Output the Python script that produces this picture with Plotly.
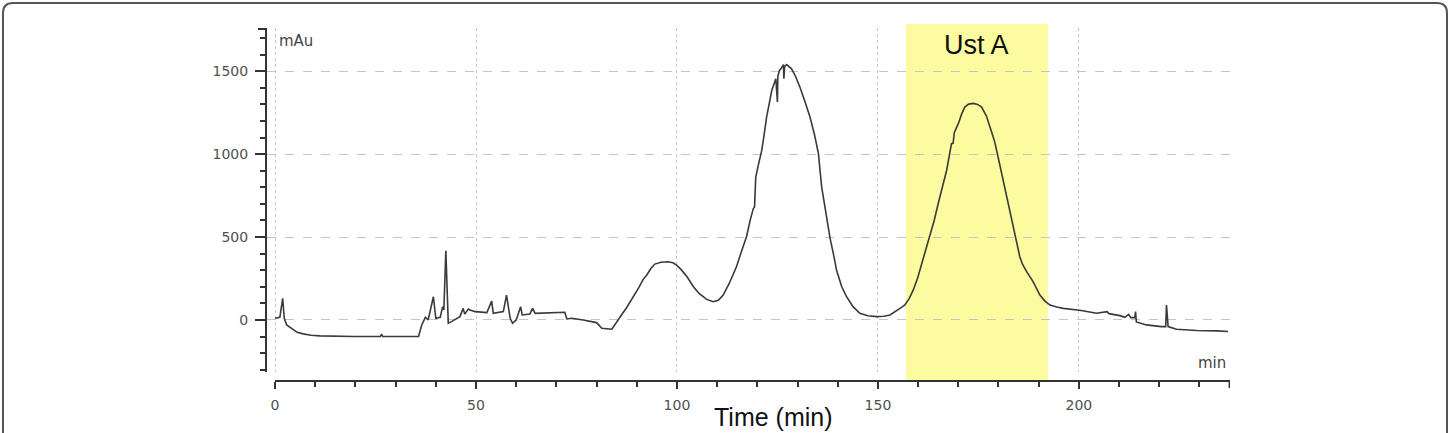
import plotly.graph_objects as go

# ---- data ----
time_min = [0.0, 1.2, 1.9, 2.3, 2.9, 3.7, 4.6, 5.5, 7.0, 9.0, 11.2, 15.0, 19.5, 26.2, 26.5,
            26.8, 35.7, 36.5, 37.1, 37.4, 38.1, 39.4, 40.0, 41.1, 41.7, 42.0, 42.5, 43.1,
            43.9, 46.0, 46.8, 47.2, 48.1, 48.5, 49.8, 52.7, 53.9, 54.3, 56.8, 57.6, 58.5,
            59.1, 60.0, 61.1, 61.5, 63.4, 64.1, 64.7, 72.1, 72.6, 73.8, 76.7, 80.0, 81.3,
            83.8, 85.0, 86.2, 87.5, 89.1, 90.5, 91.6, 92.5, 93.5, 94.5, 96.0, 97.8, 99.0,
            99.9, 101.0, 102.5, 104.1, 105.5, 107.4, 109.0, 110.3, 111.5, 113.0, 114.8,
            116.0, 117.3, 118.3, 119.0, 119.3, 119.6, 120.3, 121.1, 121.7, 122.3, 123.0,
            123.6, 124.6, 125.0, 125.1, 125.5, 126.0, 126.5, 126.6, 126.8, 127.3, 128.5,
            129.5, 130.6, 131.8, 133.1, 134.2, 135.2, 136.0, 137.2, 138.1, 139.0, 139.7,
            141.0, 142.2, 143.8, 145.5, 147.5, 149.7, 151.5, 153.0, 155.5, 156.7, 157.8,
            158.8, 159.9, 160.9, 161.9, 162.9, 164.0, 165.0, 166.0, 167.1, 168.3, 168.7,
            169.0, 170.0, 170.8, 171.6, 172.6, 173.7, 174.8, 175.8, 177.0, 177.9, 179.0,
            179.9, 181.0, 182.0, 183.0, 184.1, 185.3, 186.0, 187.0, 188.6, 189.5, 190.3,
            191.5, 192.8, 194.5, 196.1, 200.2, 204.4, 207.0, 207.5, 210.2, 211.4, 212.4,
            212.9, 213.9, 214.1, 214.3, 216.8, 220.5, 221.6, 221.8, 222.2, 224.3, 229.3,
            234.3, 237.1]
absorbance_mau = [10, 16, 130, 10, -30, -44, -64, -75, -84, -92, -96, -99, -100, -100, -86,
                  -100, -100, -30, 5, 16, 0, 140, 10, 16, 80, 60, 417, -20,
                  -10, 20, 70, 35, 66, 60, 50, 44, 114, 40, 50, 150, 10,
                  -20, 0, 80, 30, 36, 70, 40, 46, 6, 10, 0, -16, -50,
                  -56, -10, 30, 75, 135, 195, 245, 271, 310, 337, 348, 351, 345,
                  331, 305, 260, 200, 160, 124, 110, 118, 150, 220, 321,
                  410, 502, 610, 672, 680, 860, 940, 1023, 1120, 1224, 1310,
                  1385, 1455, 1314, 1470, 1505, 1520, 1540, 1455, 1530, 1540, 1515,
                  1470, 1404, 1320, 1224, 1120, 1003, 802, 622, 492, 390, 301,
                  200, 140, 80, 40, 25, 20, 22, 30, 70, 90, 130,
                  181, 255, 341, 420, 502, 600, 702, 800, 903, 1063, 1065,
                  1130, 1184, 1240, 1284, 1302, 1306, 1300, 1284, 1230, 1164, 1080,
                  983, 860, 742, 620, 502, 381, 335, 291, 231, 190, 150,
                  115, 90, 78, 70, 58, 40, 50, 38, 26, 16, 34,
                  14, 14, 50, -12, -30, -40, -40, 90, -40, -56, -64,
                  -66, -70]

x_tick_values = [0, 50, 100, 150, 200]
x_tick_labels = ["0", "50", "100", "150", "200"]
y_tick_values = [0, 500, 1000, 1500]
y_tick_labels = ["0", "500", "1000", "1500"]

highlight_start, highlight_end = 157.0, 192.3
highlight_label = "Ust A"
x_title = "Time (min)"
y_unit = "mAu"
x_unit = "min"

# ---- layout geometry (pixels in a 1450x433 figure) ----
W, H = 1450, 433
def px(x):
    return x / W
def py(y):
    return 1 - y / H

AX = "#333333"
TICKFONT = dict(family="DejaVu Sans", size=14, color="#505050")

fig = go.Figure()
fig.add_trace(go.Scatter(x=time_min, y=absorbance_mau, mode="lines",
                         line=dict(color="#3a3a3a", width=1.6), hoverinfo="skip",
                         showlegend=False))

fig.update_layout(
    width=W, height=H,
    margin=dict(l=0, r=0, t=0, b=0),
    paper_bgcolor="white", plot_bgcolor="rgba(0,0,0,0)",
    xaxis=dict(domain=[px(267), px(1230)], range=[-2.0, 237.6],
               anchor="free", position=py(381),
               tickmode="array", tickvals=x_tick_values, ticktext=x_tick_labels,
               ticks="outside", ticklen=7, tickwidth=2, tickcolor=AX,
               showline=False, zeroline=False,
               showgrid=True, gridcolor="#c4c4c4", gridwidth=1, griddash="dot",
               minor=dict(dtick=10, tick0=0, ticks="outside", ticklen=5, tickwidth=2,
                          tickcolor=AX, showgrid=False),
               tickfont=TICKFONT, ticklabelstandoff=4),
    yaxis=dict(domain=[py(372), py(28)], range=[-314, 1761],
               tickmode="array", tickvals=y_tick_values, ticktext=y_tick_labels,
               ticks="outside", ticklen=10, tickwidth=2, tickcolor=AX,
               showline=True, linecolor=AX, linewidth=2, zeroline=False,
               showgrid=True, gridcolor="#c4c4c4", gridwidth=1, griddash="dash",
               minor=dict(dtick=100, tick0=0, ticks="outside", ticklen=5, tickwidth=2,
                          tickcolor=AX, showgrid=False),
               tickfont=TICKFONT, ticklabelstandoff=4),
)

shapes = []
# highlighted fraction band
shapes.append(dict(type="rect", xref="x", yref="paper",
                   x0=highlight_start, x1=highlight_end, y0=py(381), y1=py(24),
                   fillcolor="#fdfb9f", line=dict(width=0), layer="below"))
# x axis line (starts at t = 0) with end cap
shapes.append(dict(type="line", xref="x", yref="paper", x0=0, x1=237.6,
                   y0=py(381), y1=py(381), line=dict(color=AX, width=2)))
shapes.append(dict(type="line", xref="x", yref="paper", x0=237.5, x1=237.5,
                   y0=py(381), y1=py(388), line=dict(color=AX, width=2)))
# y axis top cap
shapes.append(dict(type="line", xref="paper", yref="paper", x0=px(258), x1=px(267),
                   y0=py(29), y1=py(29), line=dict(color=AX, width=2)))
# rounded outer frame
r = 10
x0f, x1f, y0f, y1f = 3, 1447, 3, 445
path = (f"M {px(x0f)},{py(y1f)} L {px(x0f)},{py(y0f + r)} "
        f"Q {px(x0f)},{py(y0f)} {px(x0f + r)},{py(y0f)} "
        f"L {px(x1f - r)},{py(y0f)} "
        f"Q {px(x1f)},{py(y0f)} {px(x1f)},{py(y0f + r)} "
        f"L {px(x1f)},{py(y1f)}")
shapes.append(dict(type="path", xref="paper", yref="paper", path=path,
                   line=dict(color="#555555", width=2)))
fig.update_layout(shapes=shapes)

annotations = [
    dict(text=highlight_label, xref="x", yref="paper",
         x=(highlight_start + highlight_end) / 2, y=py(45),
         xanchor="center", yanchor="middle", showarrow=False,
         font=dict(family="Liberation Sans", size=27, color="#111111")),
    dict(text=x_title, xref="paper", yref="paper", x=px(773), y=py(417),
         xanchor="center", yanchor="middle", showarrow=False,
         font=dict(family="Liberation Sans", size=25, color="#111111")),
    dict(text=y_unit, xref="paper", yref="paper", x=px(277), y=py(41),
         xanchor="left", yanchor="middle", showarrow=False,
         font=dict(family="DejaVu Sans", size=15, color="#444444")),
    dict(text=x_unit, xref="paper", yref="paper", x=px(1228), y=py(363),
         xanchor="right", yanchor="middle", showarrow=False,
         font=dict(family="DejaVu Sans", size=15, color="#444444")),
]
fig.update_layout(annotations=annotations)

fig.write_html("out.html")
